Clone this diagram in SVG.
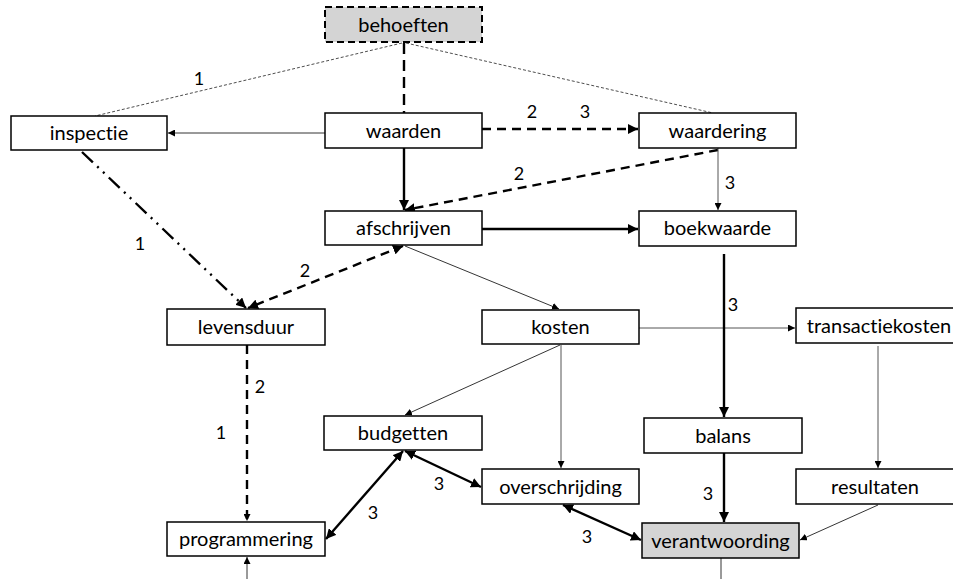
<svg xmlns="http://www.w3.org/2000/svg" width="953" height="579" viewBox="0 0 953 579">
<style>
.n rect{fill:#fff;stroke:#000;stroke-width:1.5}
.n.g rect{fill:#d4d4d4}
.n.d rect{stroke-dasharray:7,4;stroke-width:2}
.n text{font-family:Lato,"Open Sans",sans-serif;font-size:20px;text-anchor:middle;fill:#000;font-variant-ligatures:none}
.e{fill:none;stroke:#000}
.thin{stroke-width:0.8}
.gray{stroke:#555;stroke-width:1}
.thick{stroke-width:2.4}
.dash{stroke-dasharray:9,6}
.dot{stroke-dasharray:3,2;stroke-width:0.7}
.dd{stroke-dasharray:15,6,2,6,2,6}
.l{font-family:Lato,"Open Sans",sans-serif;font-size:18px;text-anchor:middle;fill:#000}
</style>
<defs>
<marker id="a" viewBox="0 0 10 10" refX="10" refY="5" markerWidth="7" markerHeight="7" markerUnits="userSpaceOnUse" orient="auto-start-reverse"><path d="M0,0L10,5L0,10z" fill="#000"/></marker>
<marker id="at" viewBox="0 0 10 10" refX="10" refY="5" markerWidth="10" markerHeight="10" markerUnits="userSpaceOnUse" orient="auto-start-reverse"><path d="M0,0L10,5L0,10z" fill="#000"/></marker>
</defs>
<g id="connectors">
<path class="e thick dash" d="M404,43V113" style="stroke-dasharray:11,6"/>
<path class="e dot" d="M402,43L95,116"/>
<path class="e dot" d="M406,43L713,113"/>
<path class="e thin" d="M325,133H168" marker-end="url(#a)"/>
<path class="e thick dash" d="M482,129H638" marker-end="url(#at)"/>
<path class="e thick" d="M404,148V210" marker-end="url(#at)"/>
<path class="e thick dash" d="M718,150L405,210" marker-end="url(#at)"/>
<path class="e gray" d="M718,148V210" marker-end="url(#a)"/>
<path class="e thick" d="M482,229H638" marker-end="url(#at)"/>
<path class="e thick dd" d="M82,152L246,308" marker-end="url(#at)"/>
<path class="e thick dash" d="M403,246L248,308" marker-start="url(#at)" marker-end="url(#at)"/>
<path class="e thin" d="M405,246L559,309" marker-end="url(#a)"/>
<path class="e gray" d="M639,328H795" marker-end="url(#a)"/>
<path class="e thick" d="M724,254V417" marker-end="url(#at)"/>
<path class="e thin" d="M560,345L405,415" marker-end="url(#a)"/>
<path class="e gray" d="M561,345V468" marker-end="url(#a)"/>
<path class="e gray" d="M878,346V468" marker-end="url(#a)"/>
<path class="e thick dash" d="M247,345V521" marker-end="url(#a)"/>
<path class="e thick" d="M724,453V522" marker-end="url(#at)"/>
<path class="e thick" d="M405,451L481,487" marker-start="url(#at)" marker-end="url(#at)"/>
<path class="e thick" d="M403,451L326,539" marker-start="url(#at)" marker-end="url(#at)"/>
<path class="e thick" d="M563,505L641,540" marker-start="url(#at)" marker-end="url(#at)"/>
<path class="e thin" d="M878,505L800,540" marker-end="url(#a)"/>
<path class="e thin" d="M247,579V557" marker-end="url(#a)"/>
<path class="e thin" d="M721,558V579"/>
<text class="l" x="199" y="85">1</text>
<text class="l" x="532" y="118">2</text>
<text class="l" x="585" y="118">3</text>
<text class="l" x="519" y="180">2</text>
<text class="l" x="730" y="189">3</text>
<text class="l" x="140" y="250">1</text>
<text class="l" x="305" y="277">2</text>
<text class="l" x="733" y="311">3</text>
<text class="l" x="260" y="393">2</text>
<text class="l" x="221" y="439">1</text>
<text class="l" x="439" y="490">3</text>
<text class="l" x="373" y="519">3</text>
<text class="l" x="708" y="500">3</text>
<text class="l" x="587" y="543">3</text>
</g>
<g id="behoeften" class="n g d"><rect x="325" y="7" width="157" height="35"/><text x="403.5" y="32">behoeften</text></g>
<g id="inspectie" class="n"><rect x="11" y="116" width="156" height="34"/><text x="89" y="140">inspectie</text></g>
<g id="waarden" class="n"><rect x="325" y="113" width="157" height="35"/><text x="403.5" y="138">waarden</text></g>
<g id="waardering" class="n"><rect x="639" y="113" width="157" height="35"/><text x="717.5" y="138">waardering</text></g>
<g id="afschrijven" class="n"><rect x="325" y="211" width="157" height="34"/><text x="403.5" y="235">afschrijven</text></g>
<g id="boekwaarde" class="n"><rect x="639" y="211" width="157" height="35"/><text x="717.5" y="235">boekwaarde</text></g>
<g id="levensduur" class="n"><rect x="167" y="309" width="158" height="36"/><text x="246" y="334">levensduur</text></g>
<g id="kosten" class="n"><rect x="482" y="310" width="157" height="34"/><text x="560.5" y="334">kosten</text></g>
<g id="transactiekosten" class="n"><rect x="796" y="308" width="160" height="35"/><text x="879" y="333">transactiekosten</text></g>
<g id="budgetten" class="n"><rect x="324" y="416" width="158" height="34"/><text x="403" y="440">budgetten</text></g>
<g id="balans" class="n"><rect x="644" y="418" width="158" height="35"/><text x="723" y="443">balans</text></g>
<g id="overschrijding" class="n"><rect x="482" y="469" width="157" height="35"/><text x="560.5" y="494">overschrijding</text></g>
<g id="resultaten" class="n"><rect x="796" y="469" width="160" height="35"/><text x="875" y="494">resultaten</text></g>
<g id="programmering" class="n"><rect x="167" y="522" width="158" height="34"/><text x="246" y="546">programmering</text></g>
<g id="verantwoording" class="n g"><rect x="642" y="523" width="157" height="35"/><text x="720.5" y="548">verantwoording</text></g>
</svg>
